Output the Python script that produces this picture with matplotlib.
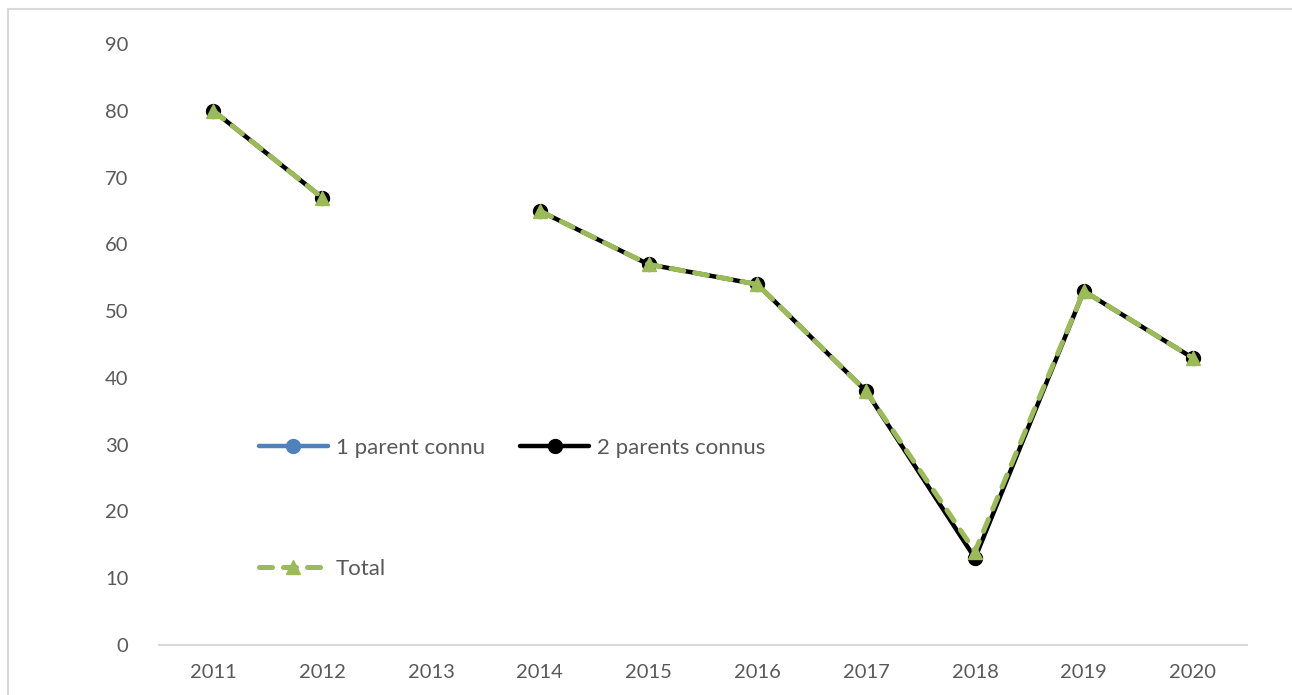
import numpy as np
import matplotlib.pyplot as plt
from matplotlib.lines import Line2D

years = ["2011", "2012", "2013", "2014", "2015", "2016", "2017", "2018", "2019", "2020"]
un_parent = [None, None, None, None, None, None, None, None, None, None]
deux_parents = [80, 67, None, 65, 57, 54, 38, 13, 53, 43]
total = [80, 67, None, 65, 57, 54, 38, 14, 53, 43]
y_ticks = [0, 10, 20, 30, 40, 50, 60, 70, 80, 90]

text_color = "#595959"
plt.rcParams["font.family"] = ["Lato", "DejaVu Sans"]


def as_array(values):
    return np.array([np.nan if v is None else v for v in values], dtype=float)


fig = plt.figure(figsize=(12.92, 6.95), dpi=100)
# chart area border: only the top and left edges are inside the canvas
bx, by = 8 / 1292, 1 - 9 / 695
fig.lines.append(Line2D([bx, 1.0], [by, by], transform=fig.transFigure,
                        color="#D9D9D9", lw=1.5))
fig.lines.append(Line2D([bx, bx], [0.0, by], transform=fig.transFigure,
                        color="#D9D9D9", lw=1.5))

ax = fig.add_axes([159 / 1292, 1 - 645 / 695, (1247 - 159) / 1292, (645 - 44) / 695])
x = np.arange(len(years))

ax.plot(x, as_array(un_parent), color="#4F81BD", lw=3.2, marker="o", ms=10,
        solid_capstyle="round", label="1 parent connu")
ax.plot(x, as_array(deux_parents), color="black", lw=3.2, marker="o", ms=10,
        solid_capstyle="round", label="2 parents connus")
ax.plot(x, as_array(total), color="#9BBB59", lw=3.6, marker="^", ms=10,
        linestyle=(0, (2.6, 2.2)), dash_capstyle="round", label="Total")

ax.set_xlim(-0.5, len(years) - 0.5)
ax.set_ylim(0, 90)
ax.set_xticks(x)
ax.set_xticklabels(years)
ax.set_yticks(y_ticks)
ax.tick_params(axis="both", length=0, labelsize=14.5, labelcolor=text_color)
ax.tick_params(axis="x", pad=14)
ax.tick_params(axis="y", pad=22)
for side in ["top", "right", "left"]:
    ax.spines[side].set_visible(False)
ax.spines["bottom"].set_color("#D9D9D9")
ax.spines["bottom"].set_linewidth(1.5)

h, l = ax.get_legend_handles_labels()
order = [0, 2, 1]
ax.legend([h[i] for i in order], [l[i] for i in order], ncol=2,
          loc="upper left", bbox_to_anchor=(100 / 1088, (645 - 438) / 601),
          frameon=False, fontsize=16, labelcolor=text_color,
          handlelength=3.1, handletextpad=0.35, columnspacing=1.6,
          labelspacing=4.55, borderpad=0, borderaxespad=0)

fig.savefig("out.png", dpi=100)
